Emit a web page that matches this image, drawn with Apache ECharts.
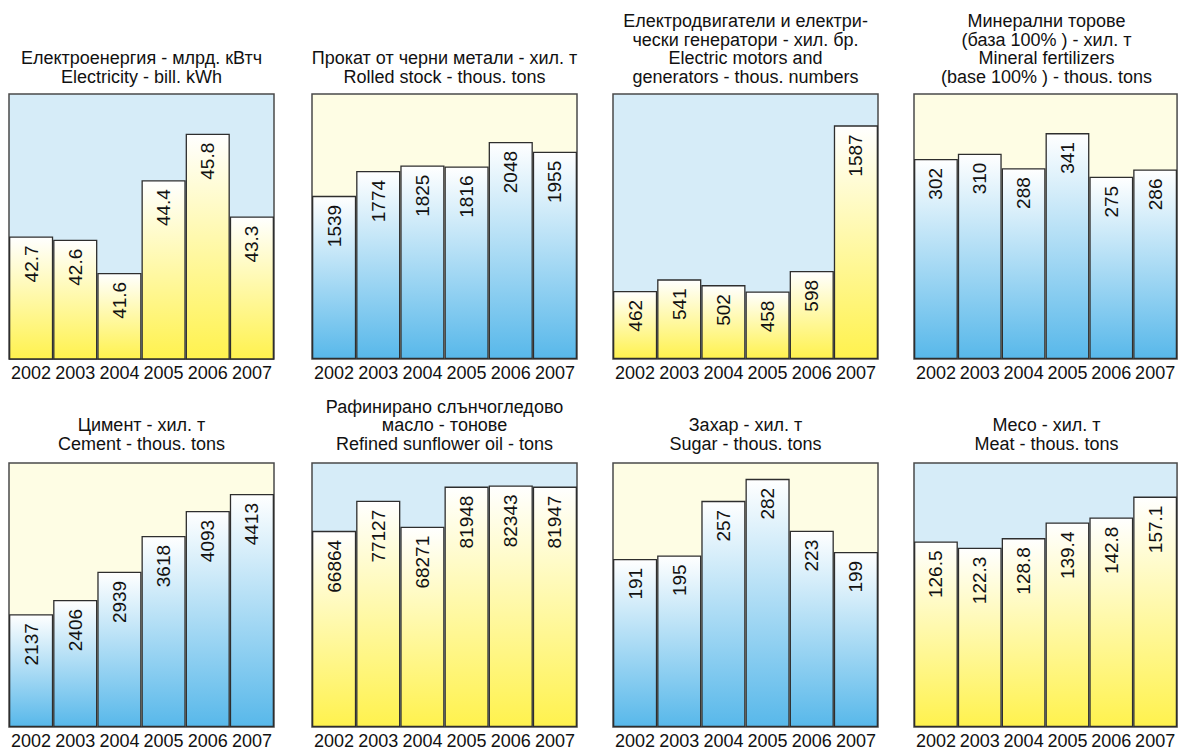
<!DOCTYPE html>
<html>
<head>
<meta charset="utf-8">
<script src="https://cdn.jsdelivr.net/npm/echarts@6/dist/echarts.min.js"></script>
<style>
html,body{margin:0;padding:0;background:#fff;}
#chart{width:1178px;height:750px;}
</style>
</head>
<body>
<div id="chart"></div>
<script>
// ---- data ----
var years = ['2002', '2003', '2004', '2005', '2006', '2007'];

var electricity  = [42.7, 42.6, 41.6, 44.4, 45.8, 43.3];
var rolledStock  = [1539, 1774, 1825, 1816, 2048, 1955];
var motors       = [462, 541, 502, 458, 598, 1587];
var fertilizers  = [302, 310, 288, 341, 275, 286];
var cement       = [2137, 2406, 2939, 3618, 4093, 4413];
var sunflowerOil = [66864, 77127, 68271, 81948, 82343, 81947];
var sugar        = [191, 195, 257, 282, 223, 199];
var meat         = [126.5, 122.3, 128.8, 139.4, 142.8, 157.1];

var titles = [
  'Електроенергия - млрд. кВтч\nElectricity - bill. kWh',
  'Прокат от черни метали - хил. т\nRolled stock - thous. tons',
  'Електродвигатели и електри-\nчески генератори - хил. бр.\nElectric motors and\ngenerators - thous. numbers',
  'Минерални торове\n(база 100% ) - хил. т\nMineral fertilizers\n(base 100% ) - thous. tons',
  'Цимент - хил. т\nCement - thous. tons',
  'Рафинирано слънчогледово\nмасло - тонове\nRefined sunflower oil - tons',
  'Захар - хил. т\nSugar - thous. tons',
  'Месо - хил. т\nMeat - thous. tons'
];

var seriesData = [electricity, rolledStock, motors, fertilizers, cement, sunflowerOil, sugar, meat];
var axisMin = [39, 0, 0, 0, 0, 0, 0, 0];
var axisMax = [47, 2500, 1800, 400, 5000, 90000, 300, 180];
// 'y' = blue background with yellow bars, 'b' = yellow background with blue bars
var scheme = ['y', 'b', 'y', 'b', 'b', 'y', 'b', 'y'];

// ---- layout / styles ----
var FONT = "'Liberation Sans', Arial, Helvetica, sans-serif";
var colLeft = [9, 312, 613, 914];
var rowTop = [94, 463];
var rowTitleBottomCenter = [76.5, 443.5];
var SIZE = 265;
var LH = 18.5;

var BLUE_BG = '#d6ecf8';
var YELLOW_BG = '#fefde4';

function grad(bottom) {
  return {
    type: 'linear', x: 0, y: 0, x2: 0, y2: 1,
    colorStops: [
      { offset: 0, color: '#ffffff' },
      { offset: 1, color: bottom }
    ]
  };
}

function labelFormatter(p) { return String(p.value); }

function buildOption() {
  var grids = [], xAxes = [], yAxes = [], series = [], titleComps = [];
  for (var i = 0; i < 8; i++) {
    var col = i % 4, row = Math.floor(i / 4);
    var gLeft = colLeft[col], gTop = rowTop[row];
    var isYellowBars = scheme[i] === 'y';
    grids.push({
      left: gLeft, top: gTop, width: SIZE, height: SIZE,
      show: true,
      backgroundColor: isYellowBars ? BLUE_BG : YELLOW_BG,
      borderColor: '#4a4a4a', borderWidth: 1.5
    });
    xAxes.push({
      type: 'category', gridIndex: i, data: years,
      axisLine: { show: false }, axisTick: { show: false },
      axisLabel: { interval: 0, fontSize: 18, color: '#111', margin: 5, fontFamily: FONT },
      splitLine: { show: false }
    });
    yAxes.push({
      type: 'value', gridIndex: i, min: axisMin[i], max: axisMax[i],
      axisLine: { show: false }, axisTick: { show: false },
      axisLabel: { show: false }, splitLine: { show: false }
    });
    series.push({
      type: 'bar', xAxisIndex: i, yAxisIndex: i,
      data: seriesData[i],
      barWidth: '100%',
      itemStyle: {
        color: isYellowBars ? grad('#fff24e') : grad('#58b8ea'),
        borderColor: '#2e2e2e', borderWidth: 1.3
      },
      label: {
        show: true, position: 'insideTop', distance: 9, rotate: 90,
        align: 'right', verticalAlign: 'middle',
        fontSize: 19, color: '#111', fontFamily: FONT,
        formatter: labelFormatter
      },
      silent: true
    });
    var nLines = titles[i].split('\n').length;
    titleComps.push({
      text: titles[i],
      left: gLeft + SIZE / 2,
      top: rowTitleBottomCenter[row] - LH / 2 - LH * (nLines - 1),
      textAlign: 'center',
      padding: 0,
      textStyle: { fontSize: 18, fontWeight: 'normal', color: '#111', lineHeight: LH, fontFamily: FONT }
    });
  }
  return {
    animation: false,
    backgroundColor: '#ffffff',
    title: titleComps,
    grid: grids,
    xAxis: xAxes,
    yAxis: yAxes,
    series: series
  };
}

var chart = echarts.init(document.getElementById('chart'), null, { renderer: 'svg' });
chart.setOption(buildOption());
</script>
</body>
</html>
